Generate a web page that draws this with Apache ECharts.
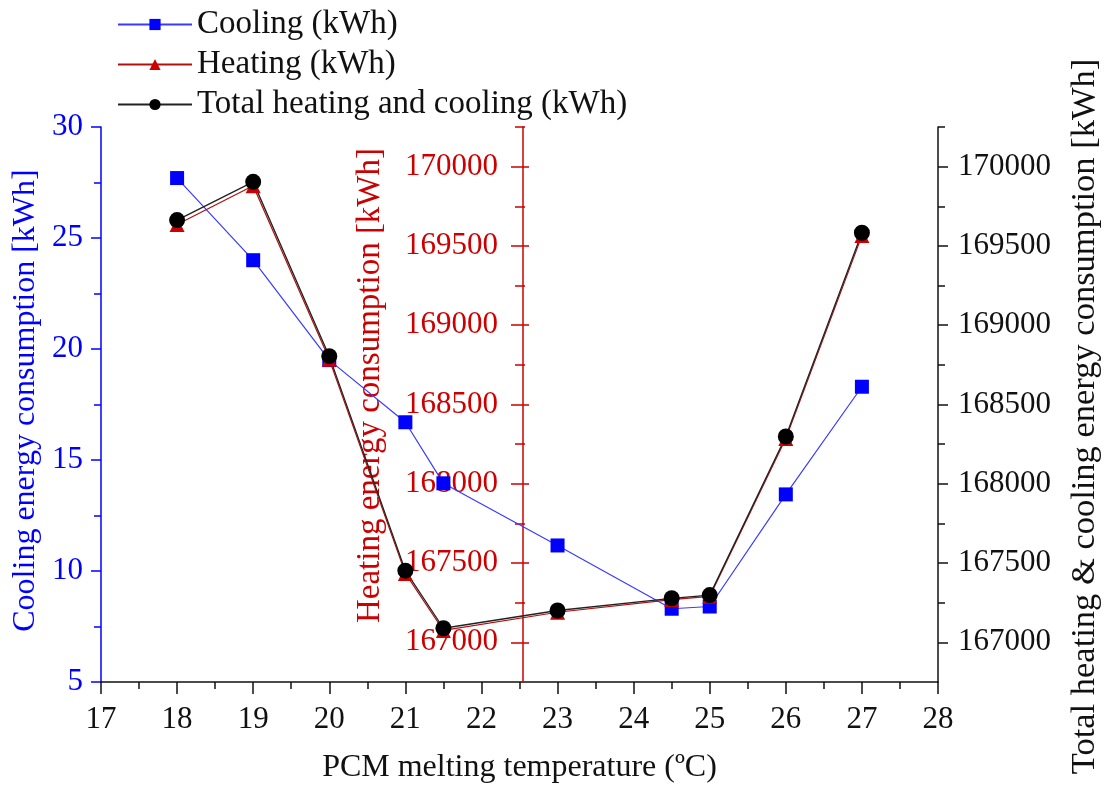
<!DOCTYPE html>
<html>
<head>
<meta charset="utf-8">
<script src="https://cdn.jsdelivr.net/npm/echarts@6/dist/echarts.min.js"></script>
<style>
  html, body { margin: 0; padding: 0; background: #fff; }
  #chart { width: 1110px; height: 790px; }
</style>
</head>
<body>
<div id="chart"></div>
<script>
// PCM melting temperature (ºC)
const temps = [18, 19, 20, 21, 21.5, 23, 24.5, 25, 26, 27];
// Cooling energy consumption [kWh]
const cooling = [27.7, 24.0, 19.5, 16.7, 13.95, 11.15, 8.3, 8.4, 13.45, 18.3];
// Heating energy consumption [kWh]
const heating = [169635, 169880, 168785, 167435, 167075, 167190, 167270, 167290, 168285, 169565];
// Total heating & cooling [kWh]
const total = [169663, 169904, 168805, 167452, 167089, 167201, 167278, 167298, 168298, 169583];

// tick values for the two energy axes
const energyTicks = [167000, 167500, 168000, 168500, 169000, 169500, 170000];
const energyMinorTicks = [167250, 167750, 168250, 168750, 169250, 169750, 170250];

const FONT = '"Liberation Serif", "Times New Roman", serif';
const BLUE = '#0000ff';
const RED = '#cc0000';
const BLACK = '#111111';

const chart = echarts.init(document.getElementById('chart'), null, { renderer: 'canvas' });

const pairs = (ys) => temps.map((t, i) => [t, ys[i]]);
const plain = (v) => String(v);

// red axis sits at x = 22.5 inside the plot
const GRID_L = 101, GRID_R = 944, RED_X = 523;
const redOffsetL = -(RED_X - GRID_L);
const redOffsetR = -(GRID_R - RED_X);

function energyAxis(extra) {
    return Object.assign({
        type: 'value',
        min: 166750,
        max: 170250,
        splitLine: { show: false },
        axisLine: { show: false },
        axisLabel: { show: false },
        axisTick: { show: false }
    }, extra);
}

chart.setOption({
    animation: false,
    backgroundColor: '#fff',
    textStyle: { fontFamily: FONT },
    legend: {
        orient: 'vertical',
        left: 112,
        top: 3,
        itemWidth: 74,
        itemHeight: 14,
        itemGap: 7,
        textStyle: { fontFamily: FONT, fontSize: 33, color: '#111' },
        data: ['Cooling (kWh)', 'Heating (kWh)', 'Total heating and cooling (kWh)']
    },
    grid: { left: GRID_L, right: 1110 - GRID_R, top: 127, bottom: 790 - 682 },
    xAxis: {
        type: 'value',
        min: 17,
        max: 28,
        interval: 1,
        name: 'PCM melting temperature (\u00baC)',
        nameLocation: 'middle',
        nameGap: 70,
        nameTextStyle: { fontFamily: FONT, fontSize: 32, color: '#111' },
        axisLine: { show: true, onZero: false, lineStyle: { color: BLACK, width: 1.5 } },
        axisTick: { show: true, length: 12, lineStyle: { color: BLACK, width: 1.5 } },
        minorTick: { show: true, splitNumber: 2, length: 7, lineStyle: { color: BLACK, width: 1.5 } },
        axisLabel: { fontFamily: FONT, fontSize: 31, color: '#111', margin: 22 },
        splitLine: { show: false }
    },
    yAxis: [
        {
            type: 'value',
            position: 'left',
            min: 5,
            max: 30,
            interval: 5,
            name: 'Cooling energy consumption [kWh]',
            nameLocation: 'middle',
            nameGap: 57,
            nameTextStyle: { fontFamily: FONT, fontSize: 32, color: BLUE, padding: [0, 0, 0, 8] },
            axisLine: { show: true, lineStyle: { color: BLUE, width: 1.5 } },
            axisTick: { show: true, length: 10, lineStyle: { color: BLUE, width: 1.5 } },
            minorTick: { show: true, splitNumber: 2, length: 7, lineStyle: { color: BLUE, width: 1.5 } },
            axisLabel: { fontFamily: FONT, fontSize: 31, color: BLUE, margin: 18 },
            splitLine: { show: false }
        },
        energyAxis({
            position: 'left',
            offset: redOffsetL,
            z: 3,
            name: 'Heating energy consumption [kWh]',
            nameLocation: 'middle',
            nameGap: 136,
            nameTextStyle: { fontFamily: FONT, fontSize: 33, color: RED, padding: [0, 0, 0, 38] },
            axisLine: { show: true, lineStyle: { color: RED, width: 1.5 } },
            axisTick: { show: true, length: 12, customValues: energyTicks, lineStyle: { color: RED, width: 1.5 } },
            axisLabel: { show: true, customValues: energyTicks, formatter: plain, fontFamily: FONT, fontSize: 31, color: RED, margin: 25 }
        }),
        energyAxis({
            position: 'right',
            name: 'Total heating & cooling energy consumption [kWh]',
            nameLocation: 'middle',
            nameGap: 129,
            nameTextStyle: { fontFamily: FONT, fontSize: 34.5, color: '#111', padding: [0, 24, 0, 0] },
            axisLine: { show: true, lineStyle: { color: BLACK, width: 1.5 } },
            axisTick: { show: true, length: 10, customValues: energyTicks, lineStyle: { color: BLACK, width: 1.5 } },
            axisLabel: { show: true, customValues: energyTicks, formatter: plain, fontFamily: FONT, fontSize: 31, color: '#111', margin: 20 }
        }),
        // extra tick sets: red ticks on the right side of the red line, minor ticks
        energyAxis({
            position: 'right', offset: redOffsetR, z: 3,
            axisTick: { show: true, length: 12, customValues: energyTicks, lineStyle: { color: RED, width: 1.5 } }
        }),
        energyAxis({
            position: 'left', offset: redOffsetL, z: 3,
            axisTick: { show: true, length: 8, customValues: energyMinorTicks, lineStyle: { color: RED, width: 1.5 } }
        }),
        energyAxis({
            position: 'right', offset: redOffsetR, z: 3,
            axisTick: { show: true, length: 8, customValues: energyMinorTicks, lineStyle: { color: RED, width: 1.5 } }
        }),
        energyAxis({
            position: 'right',
            axisTick: { show: true, length: 7, customValues: energyMinorTicks, lineStyle: { color: BLACK, width: 1.5 } }
        })
    ],
    series: [
        {
            name: 'Cooling (kWh)',
            type: 'line',
            yAxisIndex: 0,
            data: pairs(cooling),
            symbol: 'rect',
            symbolSize: 14,
            itemStyle: { color: BLUE },
            lineStyle: { color: '#3a3aff', width: 1.2 }
        },
        {
            name: 'Heating (kWh)',
            type: 'line',
            yAxisIndex: 1,
            data: pairs(heating),
            symbol: 'triangle',
            symbolSize: 15,
            itemStyle: { color: RED },
            lineStyle: { color: '#b01010', width: 1.2 }
        },
        {
            name: 'Total heating and cooling (kWh)',
            type: 'line',
            yAxisIndex: 2,
            data: pairs(total),
            symbol: 'circle',
            symbolSize: 16,
            itemStyle: { color: '#000' },
            lineStyle: { color: '#222', width: 1.3 }
        }
    ]
});
</script>
</body>
</html>
